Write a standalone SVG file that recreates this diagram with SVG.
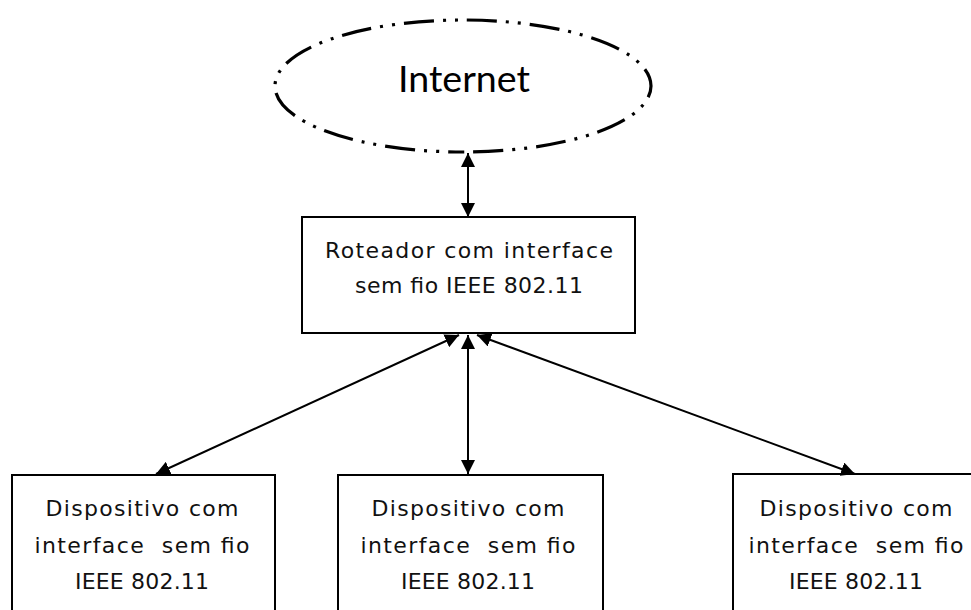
<svg xmlns="http://www.w3.org/2000/svg" width="971" height="610" viewBox="0 0 971 610">
  <style>
    .box { fill: #ffffff; stroke: #000000; stroke-width: 2; }
    .cloud { fill: none; stroke: #000000; stroke-width: 3.2; stroke-dasharray: 30 9 3 9 3 9; stroke-dashoffset: 15; }
    .lbl { font-family: "DejaVu Sans", "Liberation Sans", sans-serif; font-size: 22px; fill: #111111; text-anchor: middle; white-space: pre; }
    .title { font-family: Lato, "Open Sans", sans-serif; font-size: 36px; fill: #000000; text-anchor: middle; }
    .link { stroke: #000000; stroke-width: 2; fill: none; marker-start: url(#head); marker-end: url(#head); }
  </style>
  <defs>
    <marker id="head" viewBox="0 0 14 14" refX="14" refY="7" markerWidth="14" markerHeight="14" markerUnits="userSpaceOnUse" orient="auto-start-reverse">
      <path d="M0,0 L14,7 L0,14 Z" fill="#000000"/>
    </marker>
  </defs>
  <rect width="971" height="610" fill="#ffffff"/>

  <!-- cloud outline drawn from the bottom point so a dash sits over the link -->
  <g id="internet">
    <path class="cloud" d="M463,152 A188,66 0 0 1 463,20 A188,66 0 0 1 463,152 Z"/>
    <text class="title" x="464" y="92" textLength="132" lengthAdjust="spacingAndGlyphs">Internet</text>
  </g>

  <g id="roteador">
    <rect class="box" x="302" y="217" width="333" height="116"/>
    <text class="lbl" x="469" y="258" textLength="288" lengthAdjust="spacing">Roteador com interface</text>
    <text class="lbl" x="469" y="293" textLength="228" lengthAdjust="spacing">sem fio IEEE 802.11</text>
  </g>

  <g id="dispositivo-1">
    <rect class="box" x="12" y="475" width="263" height="150"/>
    <text class="lbl" x="142" y="516" textLength="193" lengthAdjust="spacing">Dispositivo com</text>
    <text class="lbl" x="142" y="553" textLength="215" lengthAdjust="spacing">interface  sem fio</text>
    <text class="lbl" x="142" y="589" textLength="134" lengthAdjust="spacing">IEEE 802.11</text>
  </g>

  <g id="dispositivo-2">
    <rect class="box" x="338" y="475" width="265" height="150"/>
    <text class="lbl" x="468" y="516" textLength="193" lengthAdjust="spacing">Dispositivo com</text>
    <text class="lbl" x="468" y="553" textLength="215" lengthAdjust="spacing">interface  sem fio</text>
    <text class="lbl" x="468" y="589" textLength="134" lengthAdjust="spacing">IEEE 802.11</text>
  </g>

  <g id="dispositivo-3">
    <rect class="box" x="733" y="474" width="260" height="150"/>
    <text class="lbl" x="856" y="516" textLength="193" lengthAdjust="spacing">Dispositivo com</text>
    <text class="lbl" x="856" y="553" textLength="215" lengthAdjust="spacing">interface  sem fio</text>
    <text class="lbl" x="856" y="589" textLength="134" lengthAdjust="spacing">IEEE 802.11</text>
  </g>

  <g id="connectors">
    <line class="link" x1="468" y1="153" x2="468" y2="217"/>
    <line class="link" x1="468" y1="335" x2="468" y2="474"/>
    <line class="link" x1="459" y1="335" x2="156" y2="474"/>
    <line class="link" x1="477" y1="335" x2="855" y2="474"/>
  </g>
</svg>
